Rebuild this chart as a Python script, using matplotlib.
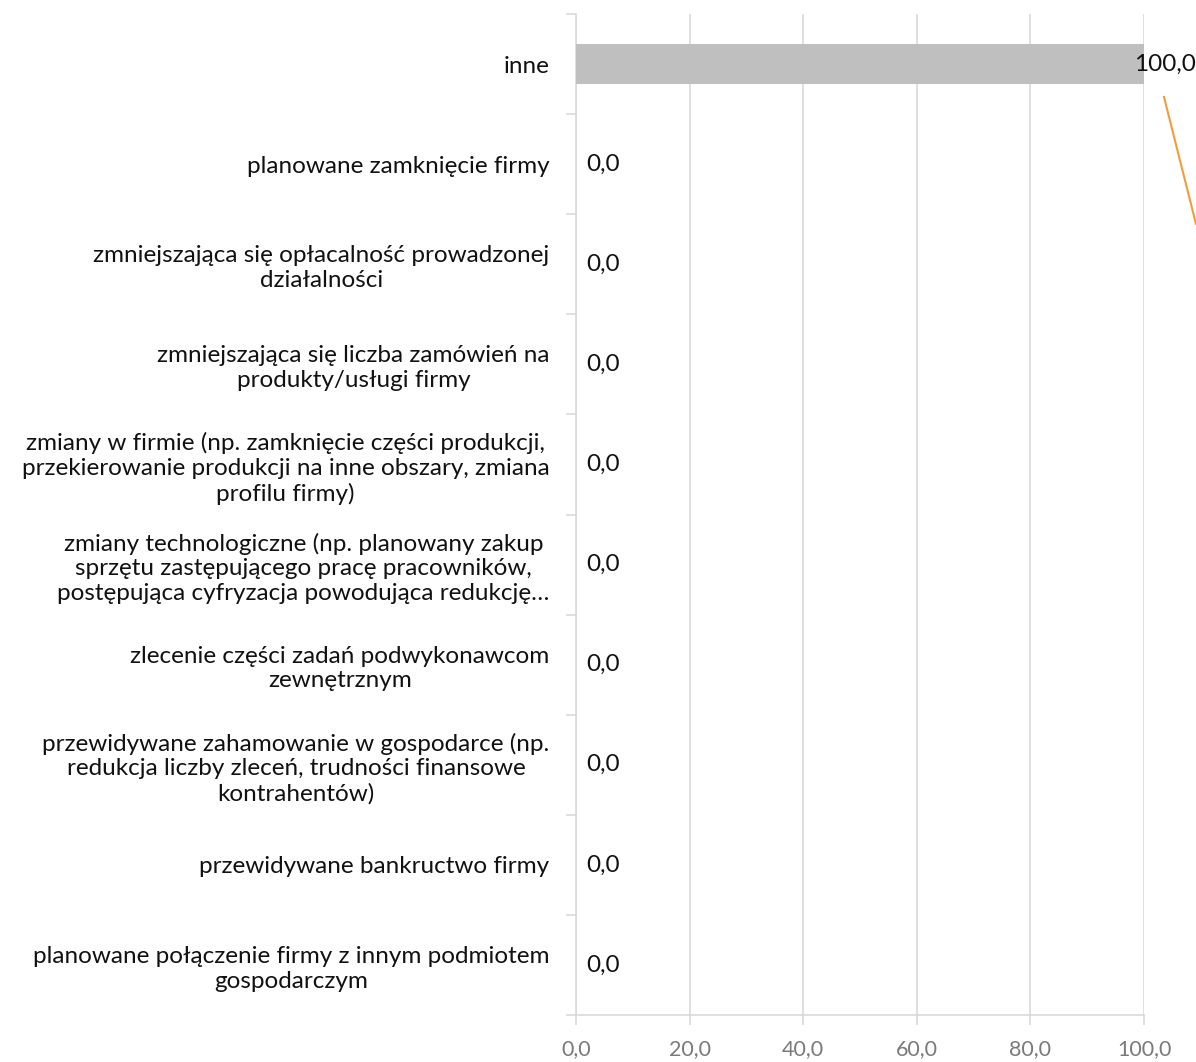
import matplotlib
matplotlib.use("Agg")
import matplotlib.pyplot as plt
from matplotlib.lines import Line2D

categories = [
    "inne",
    "planowane zamknięcie firmy",
    "zmniejszająca się opłacalność prowadzonej\ndziałalności",
    "zmniejszająca się liczba zamówień na\nprodukty/usługi firmy",
    "zmiany w firmie (np. zamknięcie części produkcji,\nprzekierowanie produkcji na inne obszary, zmiana\nprofilu firmy)",
    "zmiany technologiczne (np. planowany zakup\nsprzętu zastępującego pracę pracowników,\npostępująca cyfryzacja powodująca redukcję…",
    "zlecenie części zadań podwykonawcom\nzewnętrznym",
    "przewidywane zahamowanie w gospodarce (np.\nredukcja liczby zleceń, trudności finansowe\nkontrahentów)",
    "przewidywane bankructwo firmy",
    "planowane połączenie firmy z innym podmiotem\ngospodarczym",
]
values = [100.0, 0.0, 0.0, 0.0, 0.0, 0.0, 0.0, 0.0, 0.0, 0.0]
xticks = [0, 20, 40, 60, 80, 100]

def fmt(v):
    return f"{v:.1f}".replace(".", ",")

plt.rcParams['font.family'] = ['Lato', 'DejaVu Sans']

W, H = 1196, 1062
fig = plt.figure(figsize=(W / 100, H / 100), dpi=100)
ax = fig.add_axes([576 / W, 47 / H, (1144 - 576) / W, (1015 - 14) / H])

n = len(categories)
pos = list(range(n))
ax.barh(pos, values, height=0.4, color="#BFBFBF", zorder=3)

ax.set_xlim(0, 100)
ax.set_ylim(n - 0.5, -0.5)

ax.set_xticks(xticks)
ax.set_xticklabels([fmt(v) for v in xticks], fontsize=15.5, color="#7A7A7A")
ax.tick_params(axis="x", length=7, width=1.2, color="#D9D9D9", pad=10)

ax.set_yticks(pos)
ax.set_yticklabels(categories, fontsize=17.5, color="#111111", ha="right",
                   multialignment="center", linespacing=1.22)
ax.tick_params(axis="y", length=0, pad=19)
ax.set_yticks([i - 0.5 for i in range(n + 1)], minor=True)
ax.tick_params(axis="y", which="minor", length=7, width=1.2, color="#D9D9D9")

ax.grid(axis="x", color="#D9D9D9", linewidth=1.2, zorder=0)
for s in ["top", "right"]:
    ax.spines[s].set_visible(False)
for s in ["left", "bottom"]:
    ax.spines[s].set_color("#D9D9D9")
    ax.spines[s].set_linewidth(1.2)

for i, v in enumerate(values):
    off = -7.5 if v >= 100 else 7.5
    ax.annotate(fmt(v), xy=(v, i), xytext=(off, 0), textcoords="offset points",
                ha="left", va="center", fontsize=17.5, color="#111111", zorder=5)

# leader line of the moved data label
fig.add_artist(Line2D([1164 / W, 1196 / W], [1 - 97 / H, 1 - 224 / H],
                      transform=fig.transFigure, color="#F79A3E", linewidth=1.5))

fig.savefig("out.png", dpi=100)
